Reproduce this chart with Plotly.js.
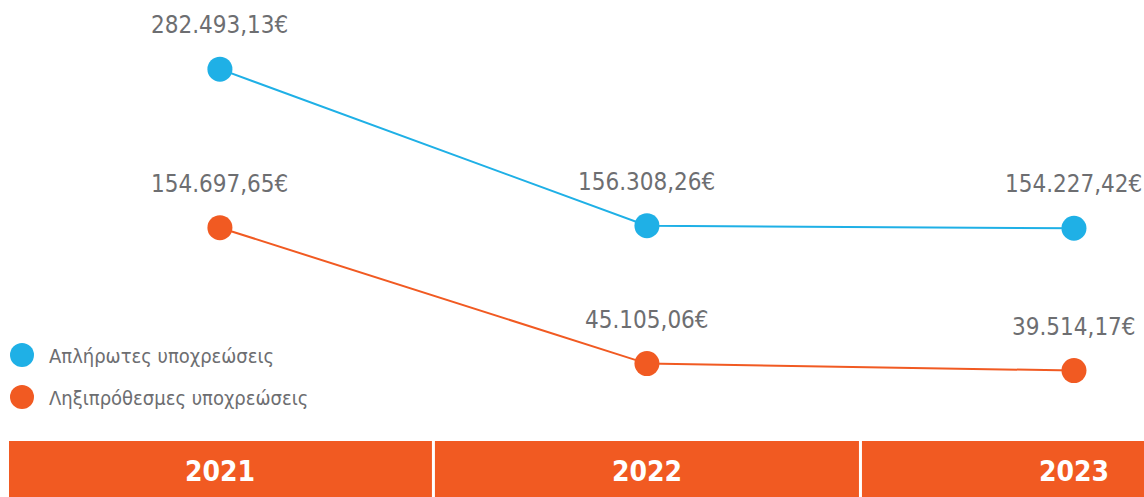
<!DOCTYPE html>
<html>
<head>
<meta charset="utf-8">
<script src="https://cdn.plot.ly/plotly-3.0.1.min.js"></script>
<style>html,body{margin:0;padding:0;background:#fff;}#chart{width:1144px;height:497px;}</style>
</head>
<body>
<div id="chart"></div>
<script>
const years = [2021, 2022, 2023];
const seriesNames = ['Απλήρωτες υποχρεώσεις', 'Ληξιπρόθεσμες υποχρεώσεις'];
const unpaid = [282493.13, 156308.26, 154227.42];
const overdue = [154697.65, 45105.06, 39514.17];
const colors = ['#1fb0e6', '#f15a22'];

const FONT = "'DejaVu Sans Condensed', 'DejaVu Sans', sans-serif";
const GRAY = '#6d6e71';

function fmt(v) {
  const parts = v.toFixed(2).split('.');
  return parts[0].replace(/\B(?=(\d{3})+(?!\d))/g, '.') + ',' + parts[1] + '€';
}

const series = [unpaid, overdue];
const traces = series.map((vals, i) => ({
  x: years, y: vals, type: 'scatter', mode: 'lines+markers',
  name: seriesNames[i],
  line: {color: colors[i], width: 2},
  marker: {color: colors[i], size: 25},
  hoverinfo: 'skip', cliponaxis: false
}));

const annotations = [];
series.forEach((vals, i) => {
  vals.forEach((v, j) => {
    annotations.push({
      x: years[j], y: v, xref: 'x', yref: 'y', text: fmt(v), showarrow: false,
      yshift: 44, xanchor: 'center', yanchor: 'middle',
      font: {family: FONT, size: 24, color: GRAY, stretch: 'condensed'}
    });
  });
});
years.forEach(yr => {
  annotations.push({
    x: yr, y: 1 - 471 / 497, xref: 'x', yref: 'paper', text: '<b>' + yr + '</b>', showarrow: false,
    xanchor: 'center', yanchor: 'middle',
    font: {family: FONT, size: 28, color: '#ffffff', stretch: 'condensed'}
  });
});
seriesNames.forEach((n, i) => {
  annotations.push({
    x: 47 / 1144, y: 1 - (356 + 42 * i) / 497, xref: 'paper', yref: 'paper', text: n, showarrow: false,
    xanchor: 'left', yanchor: 'middle',
    font: {family: FONT, size: 20, color: GRAY, stretch: 'condensed'}
  });
});

const shapes = [
  {type: 'rect', xref: 'paper', yref: 'paper', x0: 9 / 1144, x1: 1, y0: 0, y1: 1 - 441 / 497,
   fillcolor: '#f15a22', line: {width: 0}, layer: 'below'},
  {type: 'line', xref: 'x', yref: 'paper', x0: 2021.5, x1: 2021.5, y0: 0, y1: 1 - 441 / 497,
   line: {color: '#ffffff', width: 3}},
  {type: 'line', xref: 'x', yref: 'paper', x0: 2022.5, x1: 2022.5, y0: 0, y1: 1 - 441 / 497,
   line: {color: '#ffffff', width: 3}}
];
colors.forEach((c, i) => {
  shapes.push({type: 'circle', xref: 'paper', yref: 'paper', xsizemode: 'pixel', ysizemode: 'pixel',
    xanchor: 22 / 1144, yanchor: 1 - (355 + 42 * i) / 497, x0: -12, x1: 12, y0: -12, y1: 12,
    fillcolor: c, line: {width: 0}});
});

const layout = {
  width: 1144, height: 497,
  margin: {l: 0, r: 0, t: 0, b: 0},
  paper_bgcolor: '#ffffff', plot_bgcolor: '#ffffff',
  showlegend: false,
  xaxis: {range: [2020.485, 2023.164], visible: false, fixedrange: true},
  yaxis: {range: [-62424, 338257], visible: false, fixedrange: true},
  annotations: annotations,
  shapes: shapes
};

Plotly.newPlot('chart', traces, layout, {displayModeBar: false, staticPlot: true});
</script>
</body>
</html>
